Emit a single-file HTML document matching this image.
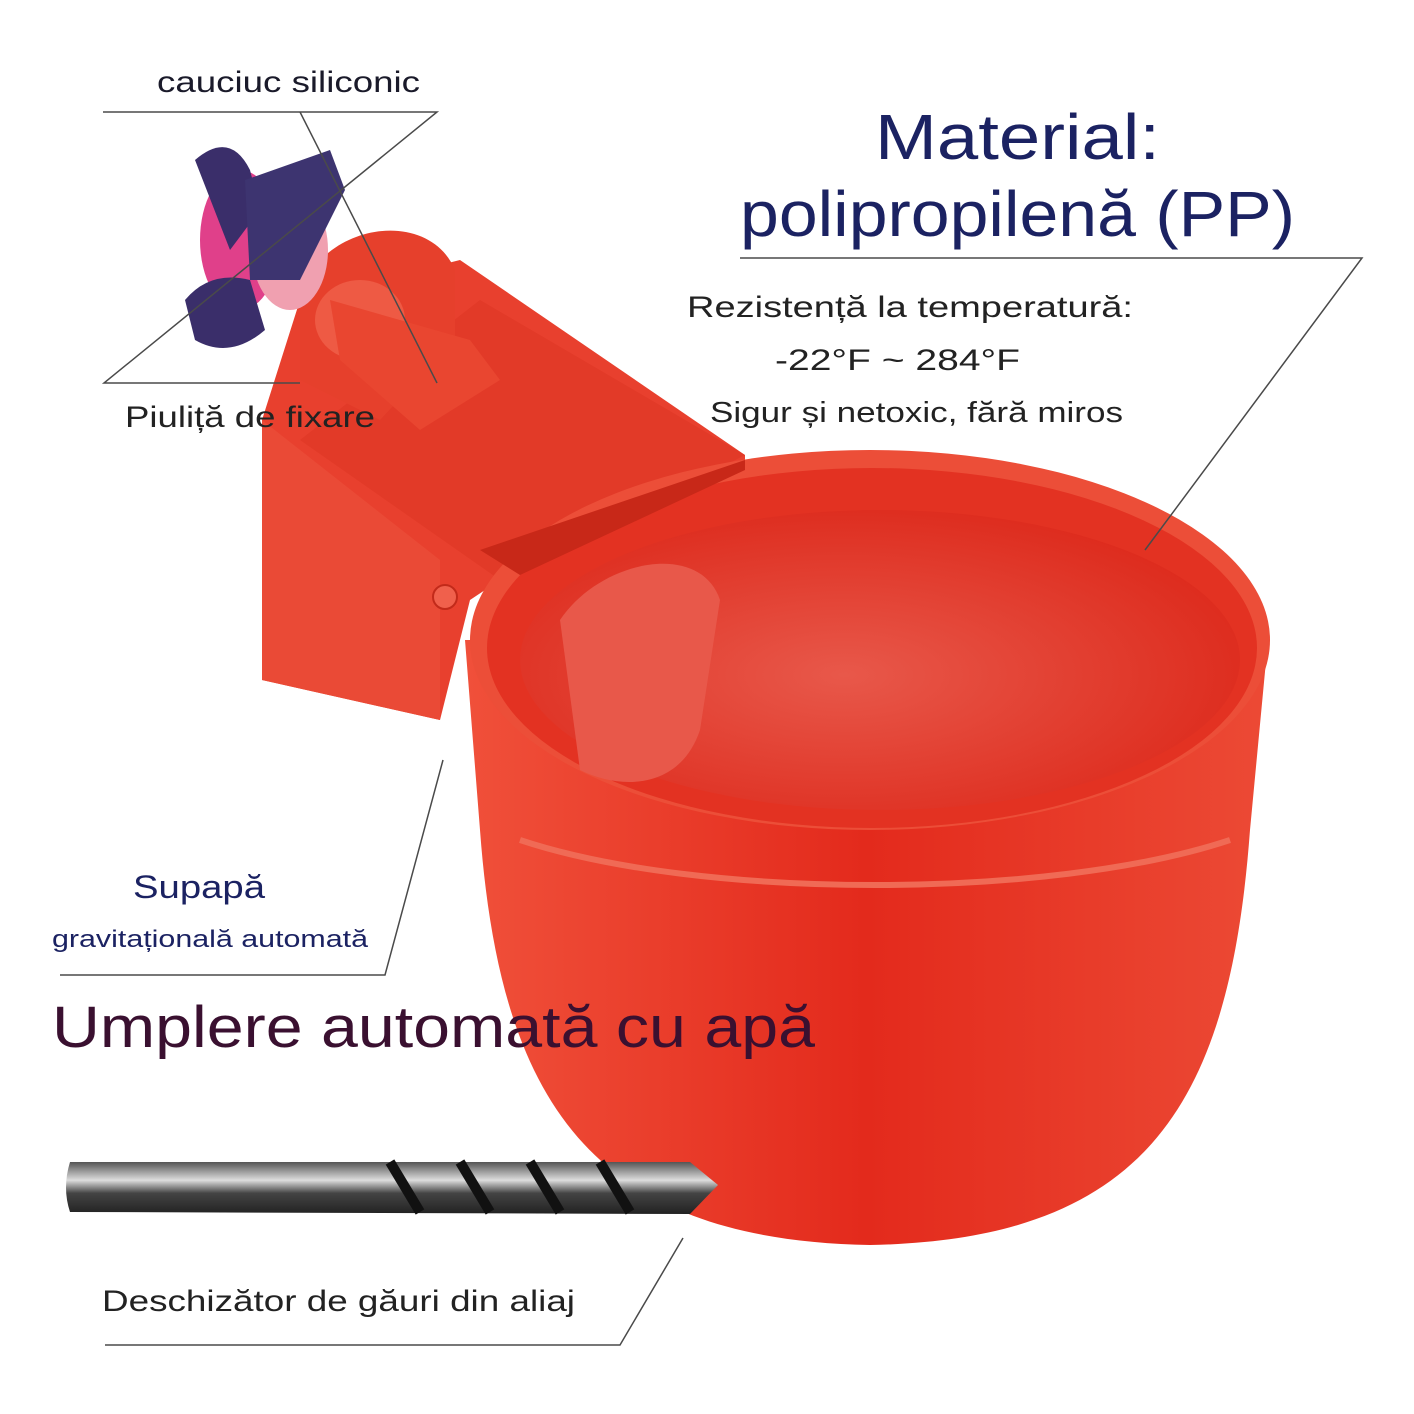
<!DOCTYPE html>
<html><head><meta charset="utf-8"><style>
html,body{margin:0;padding:0;background:#fff}
svg{display:block}
text{font-family:"Liberation Sans",sans-serif}
</style></head><body>
<svg width="1414" height="1414" viewBox="0 0 1414 1414" xmlns="http://www.w3.org/2000/svg">
<defs>
<linearGradient id="body" x1="0" x2="1">
<stop offset="0" stop-color="#f0503a"/><stop offset="0.5" stop-color="#e32a1c"/><stop offset="1" stop-color="#ec4a35"/>
</linearGradient>
<radialGradient id="inner" cx="0.45" cy="0.55" r="0.6">
<stop offset="0" stop-color="#e8584a"/><stop offset="1" stop-color="#dd2a1c"/>
</radialGradient>
<linearGradient id="drill" x1="0" y1="0" x2="0" y2="1">
<stop offset="0" stop-color="#555"/><stop offset="0.35" stop-color="#ddd"/><stop offset="0.6" stop-color="#444"/><stop offset="1" stop-color="#222"/>
</linearGradient>
</defs>
<path d="M262 420 L300 300 L460 260 L745 455 L745 470 L500 580 L470 600 L440 720 L262 680 Z" fill="#e8402e"/>
<path d="M262 420 L440 560 L440 720 L262 680 Z" fill="#ea4a36"/>
<path d="M300 440 L480 300 L745 455 L500 580 Z" fill="#e23a28"/>
<circle cx="445" cy="597" r="12" fill="#f0604c" stroke="#c22a1a" stroke-width="2"/>
<path d="M300 290 C330 220 430 210 455 270 L455 340 L380 420 L300 380 Z" fill="#e6402c"/>
<ellipse cx="360" cy="320" rx="45" ry="40" fill="#ee5a44"/>
<path d="M330 300 L470 340 L500 380 L420 430 L340 360 Z" fill="#e94630"/>
<ellipse cx="240" cy="240" rx="40" ry="70" fill="#e0408a"/>
<ellipse cx="290" cy="250" rx="38" ry="60" fill="#f0a0b0"/>
<path d="M195 160 Q230 130 250 170 L260 210 L230 250 Z" fill="#3a2e6a"/>
<path d="M245 180 L330 150 L345 190 L300 280 L250 280 Z" fill="#3d3470"/>
<path d="M185 300 Q210 270 250 280 L265 330 Q230 360 195 340 Z" fill="#3a2e6a"/>
<path d="M465 640 L1268 640 L1250 830 C1230 1100 1150 1240 870 1245 C590 1240 500 1100 480 830 Z" fill="url(#body)"/>
<ellipse cx="870" cy="640" rx="400" ry="190" fill="#ec4e38"/>
<ellipse cx="872" cy="648" rx="385" ry="180" fill="#e33222"/>
<ellipse cx="880" cy="660" rx="360" ry="150" fill="url(#inner)"/>
<path d="M520 840 C700 900 1050 900 1230 840" stroke="#f06a55" stroke-width="6" fill="none"/>
<path d="M560 620 C600 560 700 540 720 600 L700 730 C680 790 620 790 580 770 Z" fill="#e8584a"/>
<path d="M480 550 L745 460 L745 470 L520 575 Z" fill="#c82818"/>
<path d="M70 1162 L690 1162 L718 1185 L690 1214 L70 1212 Q62 1188 70 1162 Z" fill="url(#drill)"/>
<path d="M390 1162 L420 1212 M460 1162 L490 1212 M530 1162 L560 1212 M600 1162 L630 1212" stroke="#111" stroke-width="10"/>
<g stroke="#4a4a4a" stroke-width="1.5" fill="none">
<path d="M103 112 L437 112 L104 383 L300 383"/>
<path d="M300 112 L437 383"/>
<path d="M740 258 L1362 258 L1145 550"/>
<path d="M60 975 L385 975 L443 760"/>
<path d="M105 1345 L620 1345 L683 1238"/>
</g>
<text x="157" y="92" font-size="30" fill="#1a1a2a" textLength="263" lengthAdjust="spacingAndGlyphs">cauciuc siliconic</text>
<text x="875" y="159" font-size="64" fill="#1b2262" textLength="285" lengthAdjust="spacingAndGlyphs">Material:</text>
<text x="740" y="236" font-size="64" fill="#1b2262" textLength="555" lengthAdjust="spacingAndGlyphs">polipropilenă (PP)</text>
<text x="687" y="317" font-size="30" fill="#222" textLength="446" lengthAdjust="spacingAndGlyphs">Rezistență la temperatură:</text>
<text x="775" y="370" font-size="30" fill="#222" textLength="245" lengthAdjust="spacingAndGlyphs">-22°F ~ 284°F</text>
<text x="710" y="422" font-size="29" fill="#222" textLength="413" lengthAdjust="spacingAndGlyphs">Sigur și netoxic, fără miros</text>
<text x="125" y="427" font-size="30" fill="#222" textLength="250" lengthAdjust="spacingAndGlyphs">Piuliță de fixare</text>
<text x="133" y="898" font-size="32" fill="#1b2262" textLength="132" lengthAdjust="spacingAndGlyphs">Supapă</text>
<text x="52" y="947" font-size="24" fill="#1b2262" textLength="316" lengthAdjust="spacingAndGlyphs">gravitațională automată</text>
<text x="52" y="1047" font-size="58" fill="#3a1030" textLength="763" lengthAdjust="spacingAndGlyphs">Umplere automată cu apă</text>
<text x="102" y="1311" font-size="30" fill="#222" textLength="473" lengthAdjust="spacingAndGlyphs">Deschizător de găuri din aliaj</text>
</svg>
</body></html>
